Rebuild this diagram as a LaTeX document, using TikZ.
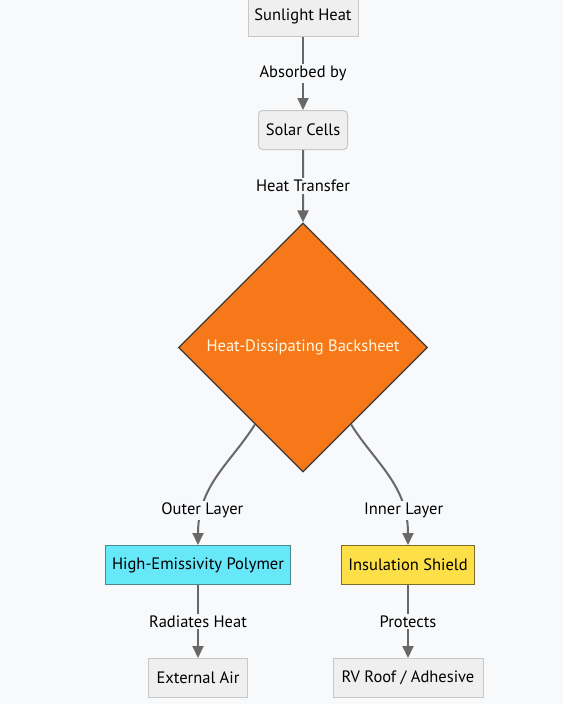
\documentclass[tikz,border=0pt]{standalone}
\usepackage{fontspec}
\setmainfont{PT Sans}
\usetikzlibrary{shapes.geometric,arrows.meta}
\definecolor{pagebg}{HTML}{F8F9FB}
\definecolor{boxfill}{HTML}{EFEFEF}
\definecolor{boxline}{HTML}{C8C8C8}
\definecolor{flowgray}{HTML}{686868}
\definecolor{sheetfill}{HTML}{F77818}
\definecolor{sheetline}{HTML}{3A3A3A}
\definecolor{sheettext}{HTML}{FFF8E1}
\definecolor{polyfill}{HTML}{67E8F9}
\definecolor{polyline}{HTML}{4A8590}
\definecolor{shieldfill}{HTML}{FDE047}
\definecolor{shieldline}{HTML}{7D6C28}
\tikzset{
  box/.style       = {shape=rectangle, draw=boxline, fill=boxfill, line width=1pt,
                      minimum height=39pt, inner sep=0pt,
                      font=\fontsize{16.5}{19}\selectfont},
  roundbox/.style  = {box, rounded corners=4pt},
  decision/.style  = {shape=diamond, aspect=1, draw=sheetline, fill=sheetfill,
                      line width=1.2pt, minimum width=249pt, minimum height=249pt,
                      inner sep=0pt, text=sheettext,
                      font=\fontsize{16.5}{19}\selectfont},
  lbl/.style       = {fill=pagebg, inner sep=2pt, midway,
                      font=\fontsize{16.5}{19}\selectfont},
  flow/.style      = {draw=flowgray, line width=2pt,
                      -{Triangle[length=12pt,width=11pt]}},
  straight/.style  = {edge from parent path={(\tikzparentnode\tikzparentanchor)
                      -- (\tikzchildnode\tikzchildanchor)}},
  outerbend/.style = {edge from parent path={(\tikzparentnode.238)
                      .. controls +(238:45pt) and +(90:60pt) .. (\tikzchildnode.north)}},
  innerbend/.style = {edge from parent path={(\tikzparentnode.302)
                      .. controls +(302:45pt) and +(90:60pt) .. (\tikzchildnode.north)}}
}
\begin{document}
\begin{tikzpicture}
 [x=1pt, y=-1pt,
  edge from parent/.style={flow},
  level 1/.style={level distance=113.5pt},
  level 2/.style={level distance=217.5pt},
  level 3/.style={level distance=217.5pt, sibling distance=210pt},
  level 4/.style={level distance=113pt, straight}]

  \fill[pagebg] (0,0) rectangle (563,704);
  \useasboundingbox (0,0) rectangle (563,704);

  \node[box, minimum width=110pt] (sun) at (303,16.5) {Sunlight Heat}
    child { node[roundbox, minimum width=89pt] (cells) {Solar Cells}
      child { node[decision] (sheet) {Heat-Dissipating Backsheet}
        child[outerbend] { node[box, fill=polyfill, draw=polyline, minimum width=185pt] (poly)
                           {High-Emissivity Polymer}
          child { node[box, minimum width=99pt] (air) {External Air}
            edge from parent node[lbl] {Radiates Heat} }
          edge from parent node[lbl, pos=0.78] {Outer Layer} }
        child[innerbend] { node[box, fill=shieldfill, draw=shieldline, minimum width=133pt] (shield)
                           {Insulation Shield}
          child { node[box, minimum width=150pt] (roof) {RV Roof / Adhesive}
            edge from parent node[lbl] {Protects} }
          edge from parent node[lbl, pos=0.78] {Inner Layer} }
        edge from parent node[lbl] {Heat Transfer} }
      edge from parent node[lbl] {Absorbed by} };
\end{tikzpicture}
\end{document}
